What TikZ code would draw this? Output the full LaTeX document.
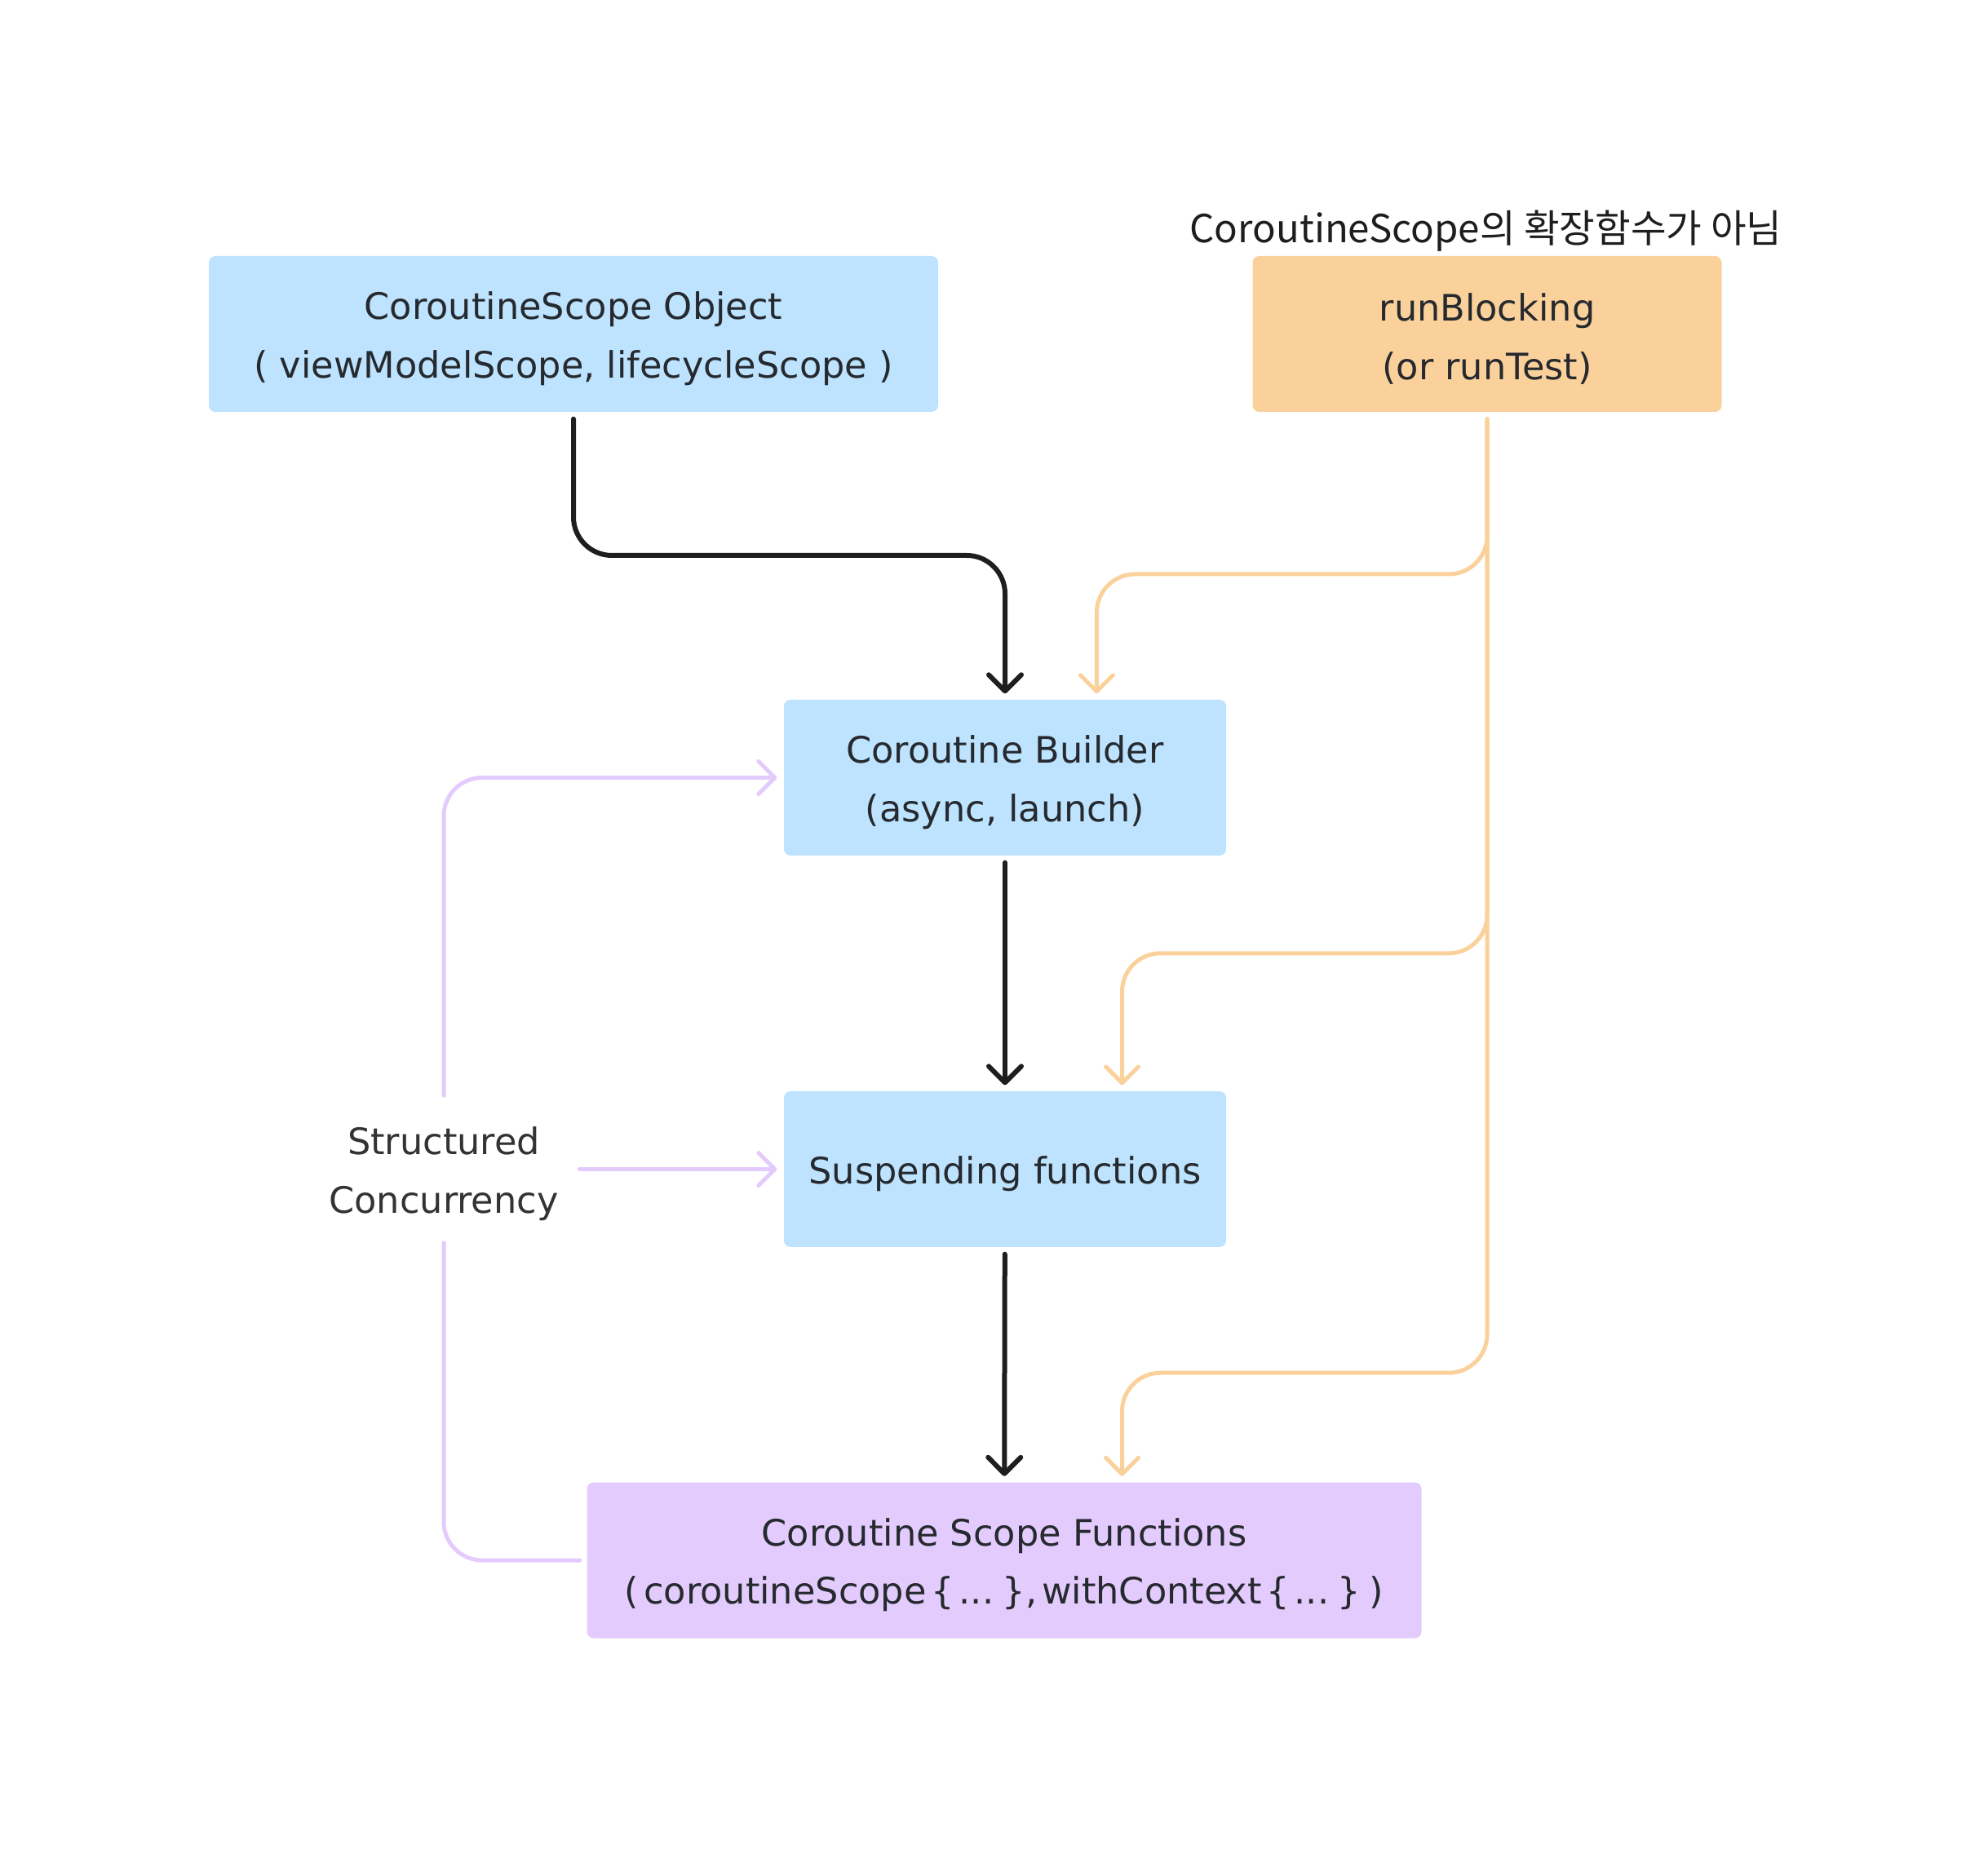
\documentclass[tikz,border=0pt]{standalone}
\usepackage{fontspec}
\setmainfont{DejaVu Sans}
\newfontfamily\krfont{Noto Sans CJK KR}
\usetikzlibrary{arrows.meta}

\definecolor{boxblue}{HTML}{BDE3FE}
\definecolor{boxorange}{HTML}{FBD19B}
\definecolor{boxpurple}{HTML}{E3CCFD}
\definecolor{inkdark}{HTML}{1E1E1E}
\definecolor{textdark}{HTML}{262A2F}
\definecolor{textgray}{HTML}{333333}

\newcommand{\lineup}{\rule{0pt}{13pt}}

\begin{document}
\begin{tikzpicture}[
    box/.style={rectangle,rounded corners=0.08cm,inner sep=0pt,minimum height=1.91cm,text=textdark,align=center,font=\fontsize{12.7}{20.35}\selectfont},
    barb/.style={-{Straight Barb[length=0.2cm,width=0.4cm,round]}},
    mainline/.style={draw=inkdark,line width=0.06cm,line cap=round,rounded corners=0.47cm,shorten <=0.08cm,shorten >=0.07cm,barb},
    runline/.style={draw=boxorange,line width=0.05cm,line cap=round,rounded corners=0.47cm,shorten <=0.08cm,shorten >=0.07cm,barb},
    structline/.style={draw=boxpurple,line width=0.05cm,line cap=round,rounded corners=0.47cm,shorten >=0.08cm}
]

    \useasboundingbox (0,0) rectangle (24.37,22.66);

    \begin{scope}[every node/.style={box}]
        \node [fill=boxblue,minimum width=8.94cm] (1) at (7.03,18.565) {\lineup CoroutineScope Object\\( viewModelScope, lifecycleScope )};
        \node [fill=boxorange,minimum width=5.75cm] (2) at (18.23,18.565) {\lineup runBlocking\\(or runTest)};
        \node [fill=boxblue,minimum width=5.42cm] (3) at (12.32,13.125) {\lineup Coroutine Builder\\(async, launch)};
        \node [fill=boxblue,minimum width=5.42cm] (4) at (12.32,8.325) {\lineup Suspending functions};
        \node [fill=boxpurple,minimum width=10.23cm] (5) at (12.31,3.53) {\lineup Coroutine Scope Functions\\{\spaceskip=0.13em ( coroutineScope \{ ... \}, withContext \{ ... \} )}};
        \node [text=textgray,minimum height=1.79cm] (6) at (5.44,8.325) {\lineup Structured\\Concurrency};
    \end{scope}

    \node [text=inkdark,font=\krfont\fontsize{13.5}{16}\selectfont] (7) at (18.215,19.83) {CoroutineScope의 확장함수가 아님};

    \draw [mainline] (1.south) -- (7.03,15.85) -| (3.north);
    \draw [mainline] (3) -- (4);
    \draw [mainline] (4) -- (5);

    \draw [runline] (2.south) -- (18.23,15.62) -| (13.444,0 |- 3.north);
    \draw [runline] (2.south) -- (18.23,10.972) -| (13.755,0 |- 4.north);
    \draw [runline] (2.south) -- (18.23,5.828) -| (13.755,0 |- 5.north);

    \draw [structline,barb] (6.north) |- (3.west);
    \draw [structline,barb,shorten <=0.25cm] (6) -- (4);
    \draw [structline] (6.south) |- (5.west);

\end{tikzpicture}
\end{document}
